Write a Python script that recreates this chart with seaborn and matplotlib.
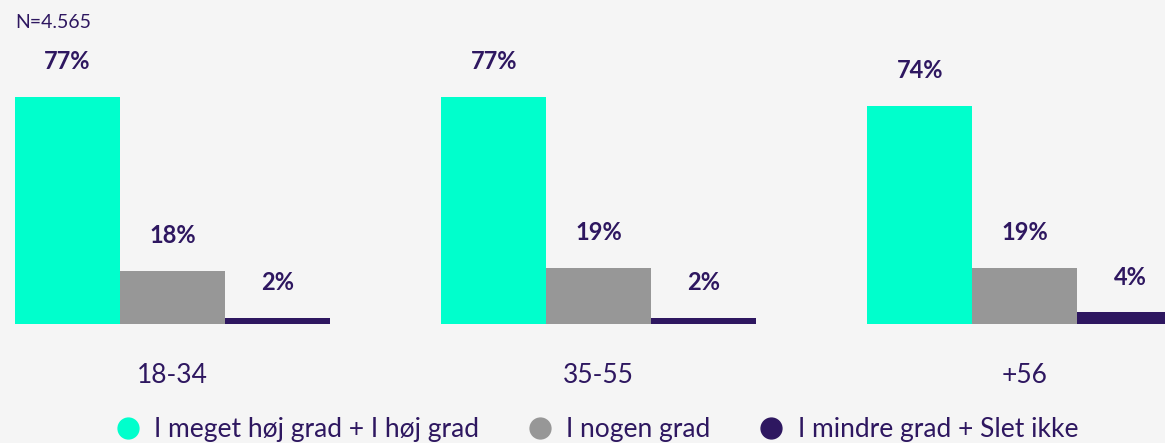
import numpy as np
import pandas as pd
import seaborn as sns
import matplotlib
matplotlib.use("Agg")
import matplotlib.pyplot as plt
from matplotlib.lines import Line2D

# data
age_groups = ["18-34", "35-55", "+56"]
answers = ["I meget høj grad + I høj grad", "I nogen grad", "I mindre grad + Slet ikke"]
high = [77, 77, 74]
some = [18, 19, 19]
low = [2, 2, 4]

colors = ["#00FFCC", "#979797", "#2E1760"]
text_col = "#2E1760"
bg = "#F5F5F5"

rows = []
for i, g in enumerate(age_groups):
    for ans, vals in zip(answers, [high, some, low]):
        rows.append({"Alder": g, "Svar": ans, "Andel": vals[i]})
df = pd.DataFrame(rows)

sns.set_style("white")
plt.rcParams["font.family"] = ["Lato", "DejaVu Sans"]

fig = plt.figure(figsize=(11.65, 4.43), dpi=100, facecolor=bg)
ax = fig.add_axes([15 / 1165, 1 - 324 / 443, 1 - 15 / 1165, 295 / 443])
ax.set_facecolor(bg)

sns.barplot(data=df, x="Alder", y="Andel", hue="Svar", hue_order=answers,
            palette=colors, width=0.74, gap=0, saturation=1, ax=ax, legend=False,
            linewidth=0, edgecolor="none")

for cont in ax.containers:
    ax.bar_label(cont, labels=[f"{int(v)}%" for v in cont.datavalues], padding=17,
                 fontsize=17, fontweight="bold", color=text_col)

ax.set_xlim(-0.37, 2.329)
ax.set_ylim(0, 100)
ax.set_xlabel("")
ax.set_ylabel("")
ax.set_yticks([])
ax.tick_params(axis="x", length=0, pad=28, labelsize=19, labelcolor=text_col)
sns.despine(ax=ax, left=True, bottom=True)

fig.text(15 / 1165, 1 - 22 / 443, "N=4.565", fontsize=14, color=text_col, va="center", ha="left")

handles = [Line2D([0], [0], marker="o", linestyle="", markersize=15, markerfacecolor=c,
                  markeredgecolor=c) for c in colors]
fig.legend(handles, answers, loc="center", bbox_to_anchor=(0.512, 1 - 430 / 443), ncol=3,
           frameon=False, fontsize=19, labelcolor=text_col, handletextpad=0.5,
           columnspacing=1.8, handlelength=1.0, borderpad=0)

fig.savefig("out.png", dpi=100, facecolor=bg)
